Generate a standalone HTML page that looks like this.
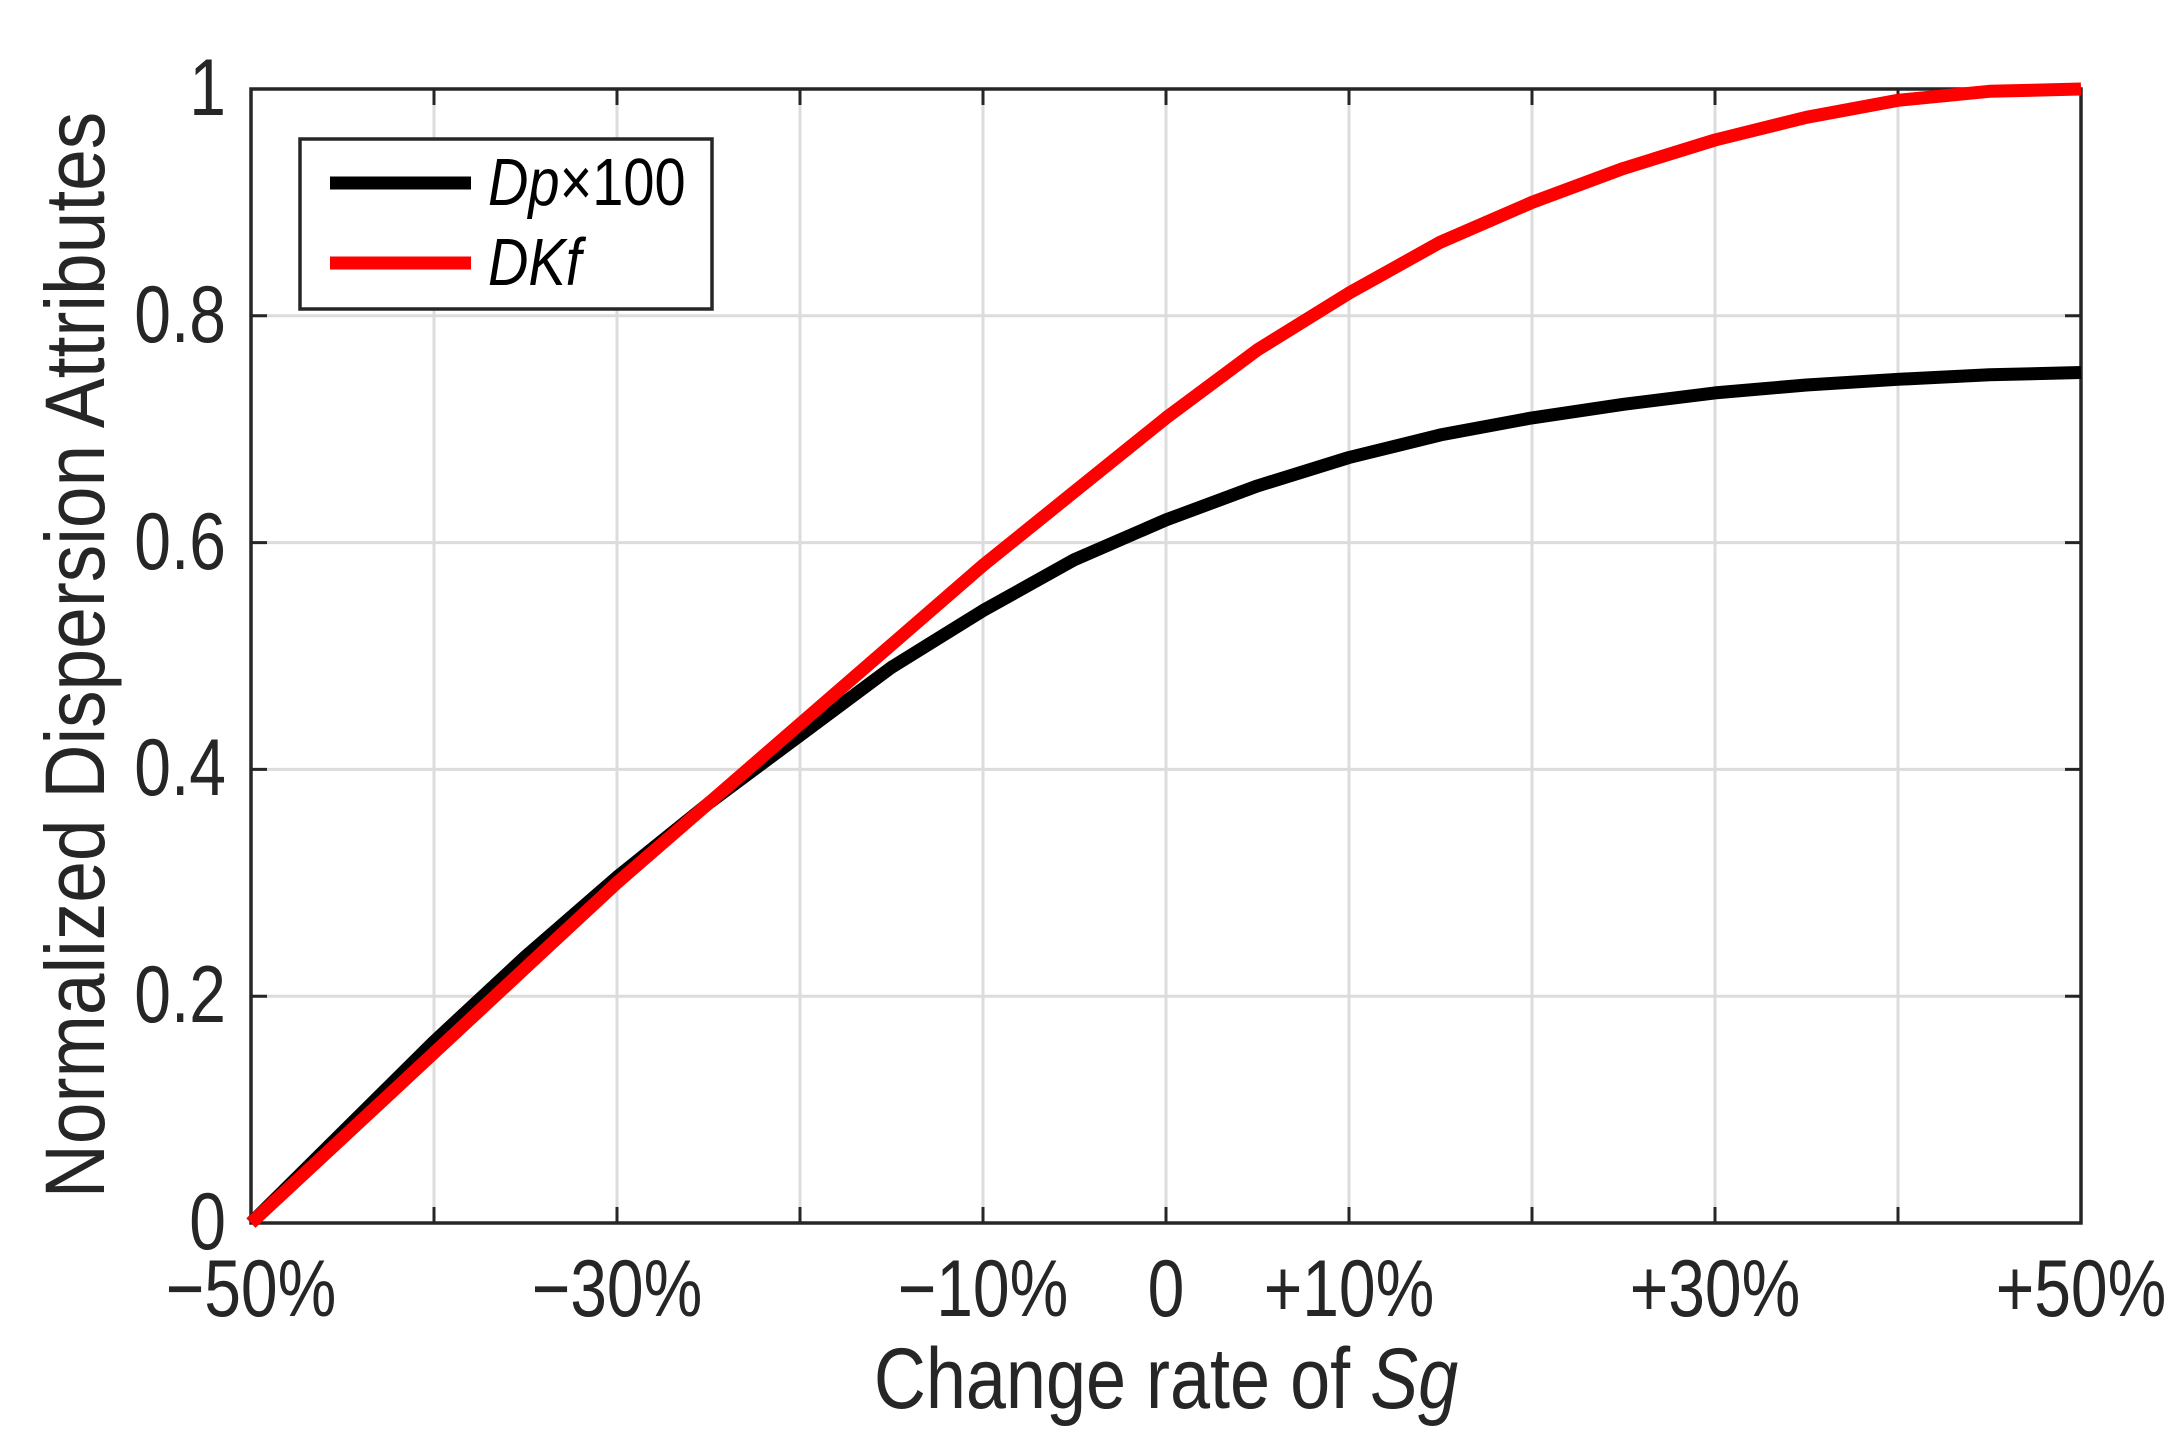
<!DOCTYPE html>
<html><head><meta charset="utf-8"><style>html,body{margin:0;padding:0;background:#fff}svg{display:block}</style></head>
<body>
<svg width="2184" height="1453" viewBox="0 0 2184 1453" xmlns="http://www.w3.org/2000/svg" font-family="Liberation Sans, Arial, sans-serif">
<rect width="2184" height="1453" fill="#fff"/>
<g stroke="#dcdcdc" stroke-width="3">
<line x1="434" y1="89" x2="434" y2="1223"/><line x1="617" y1="89" x2="617" y2="1223"/><line x1="800" y1="89" x2="800" y2="1223"/><line x1="983" y1="89" x2="983" y2="1223"/><line x1="1166" y1="89" x2="1166" y2="1223"/><line x1="1349" y1="89" x2="1349" y2="1223"/><line x1="1532" y1="89" x2="1532" y2="1223"/><line x1="1715" y1="89" x2="1715" y2="1223"/><line x1="1898" y1="89" x2="1898" y2="1223"/>
<line x1="251" y1="996.2" x2="2081" y2="996.2"/><line x1="251" y1="769.4" x2="2081" y2="769.4"/><line x1="251" y1="542.6" x2="2081" y2="542.6"/><line x1="251" y1="315.8" x2="2081" y2="315.8"/>
</g>
<g stroke="#262626" stroke-width="3">
<path d="M434 1223v-16M617 1223v-16M800 1223v-16M983 1223v-16M1166 1223v-16M1349 1223v-16M1532 1223v-16M1715 1223v-16M1898 1223v-16"/>
<path d="M434 89v16M617 89v16M800 89v16M983 89v16M1166 89v16M1349 89v16M1532 89v16M1715 89v16M1898 89v16"/>
<path d="M251 996.2h16M251 769.4h16M251 542.6h16M251 315.8h16M2081 996.2h-16M2081 769.4h-16M2081 542.6h-16M2081 315.8h-16"/>
<rect x="251" y="89" width="1830" height="1134" fill="none" stroke-width="3.5"/>
</g>
<polyline fill="none" stroke="#000" stroke-width="13" stroke-linejoin="round" points="251,1223 342.5,1132.3 434,1041.6 525.5,956.5 617,877.1 708.5,803.4 800,735.4 891.5,667.3 983,610.6 1074.5,559.6 1166,519.9 1257.5,485.9 1349,457.5 1440.5,434.9 1532,417.9 1623.5,404.3 1715,392.9 1806.5,385 1898,379.3 1989.5,374.8 2081,372.5"/>
<polyline fill="none" stroke="#ff0000" stroke-width="13" stroke-linejoin="round" points="251,1223 342.5,1138 434,1052.9 525.5,967.8 617,882.8 708.5,803.4 800,724 891.5,644.7 983,565.3 1074.5,491.6 1166,417.9 1257.5,349.8 1349,293.1 1440.5,242.1 1532,202.4 1623.5,168.4 1715,140 1806.5,117.3 1898,100.3 1989.5,91.3 2081,89"/>
<rect x="300" y="139" width="412" height="170" fill="#fff" stroke="#262626" stroke-width="3.5"/>
<line x1="330" y1="183" x2="471" y2="183" stroke="#000" stroke-width="13"/>
<line x1="330" y1="263" x2="471" y2="263" stroke="#ff0000" stroke-width="13"/>
<g font-size="56" fill="#000">
<text transform="translate(488,205) scale(1,1.2)"><tspan font-style="italic">Dp</tspan>×100</text>
<text transform="translate(488,285) scale(1,1.2)" font-style="italic">DKf</text>
</g>
<g font-size="66" fill="#262626" text-anchor="middle">
<text transform="translate(251,1316) scale(1,1.22)">−50%</text><text transform="translate(617,1316) scale(1,1.22)">−30%</text><text transform="translate(983,1316) scale(1,1.22)">−10%</text><text transform="translate(1166,1316) scale(1,1.22)">0</text><text transform="translate(1349,1316) scale(1,1.22)">+10%</text><text transform="translate(1715,1316) scale(1,1.22)">+30%</text><text transform="translate(2081,1316) scale(1,1.22)">+50%</text>
</g>
<g font-size="66" fill="#262626" text-anchor="end">
<text transform="translate(226,1249) scale(1,1.22)">0</text><text transform="translate(226,1022) scale(1,1.22)">0.2</text><text transform="translate(226,795) scale(1,1.22)">0.4</text><text transform="translate(226,569) scale(1,1.22)">0.6</text><text transform="translate(226,342) scale(1,1.22)">0.8</text><text transform="translate(226,115) scale(1,1.22)">1</text>
</g>
<text transform="translate(1166,1408) scale(1,1.2)" font-size="72" fill="#262626" text-anchor="middle">Change rate of <tspan font-style="italic">Sg</tspan></text>
<text transform="translate(104,655) rotate(-90) scale(1.07,1.2)" font-size="70" fill="#262626" text-anchor="middle">Normalized Dispersion Attributes</text>
</svg>
</body></html>
